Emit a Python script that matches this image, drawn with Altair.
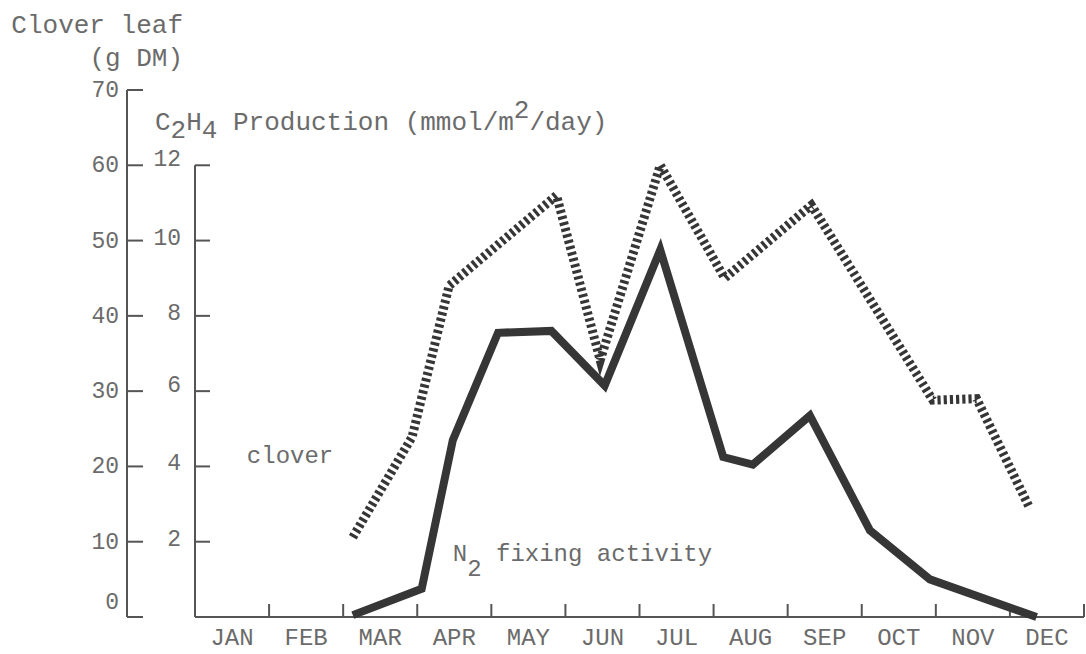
import altair as alt
import pandas as pd

# ---- data -------------------------------------------------------------
months = ["JAN", "FEB", "MAR", "APR", "MAY", "JUN",
          "JUL", "AUG", "SEP", "OCT", "NOV", "DEC"]

# clover leaf dry matter (g DM), sampled through the season
clover_month = [2.13, 2.93, 3.43, 4.88, 5.47, 6.28, 7.15, 8.32, 9.96, 10.55, 11.27]
clover_gdm = [10.6, 23.9, 44.0, 56.0, 34.1, 60.0, 45.0, 54.7, 28.8, 29.0, 14.4]

# N2 fixing activity as C2H4 production (mmol/m2/day)
n2_month = [2.13, 3.06, 3.48, 4.09, 4.81, 5.53, 6.28, 7.13, 7.53, 8.30, 9.11, 9.92, 11.36]
n2_c2h4 = [0.05, 0.75, 4.70, 7.55, 7.60, 6.15, 9.75, 4.25, 4.05, 5.35, 2.30, 1.00, 0.0]

outer_ticks = [0, 10, 20, 30, 40, 50, 60, 70]
inner_ticks = [0, 2, 4, 6, 8, 10, 12]
inner_labels = [2, 4, 6, 8, 10, 12]

# ---- layout / style ---------------------------------------------------
W, H = 889, 527
FONT = "Liberation Mono"
TEXT = "#6b6b6b"
AXIS = "#555555"
INK = "#363636"
RATIO = 5  # 1 unit of C2H4 production sits at 5 g DM on the shared vertical scale

x_scale = alt.Scale(domain=[0, 12], nice=False, zero=False)
y_scale = alt.Scale(domain=[0, 70], nice=False)

one = pd.DataFrame({"k": [0]})
clover_df = pd.DataFrame({"m": clover_month, "v": clover_gdm})
n2_df = pd.DataFrame({"m": n2_month, "v": n2_c2h4})
outer_df = pd.DataFrame({"v": outer_ticks, "lab": [str(v) for v in outer_ticks]})
inner_tick_df = pd.DataFrame({"v": inner_ticks})
inner_lab_df = pd.DataFrame({"v": inner_labels, "lab": [str(v) for v in inner_labels]})
month_df = pd.DataFrame({"pos": [i + 0.5 for i in range(12)], "lab": months})
bound_df = pd.DataFrame({"m": list(range(1, 13))})

to_shared = f"datum.v * {RATIO}"


def xq(field):
    return alt.X(field, type="quantitative", scale=x_scale, axis=None)


def yq(field):
    return alt.Y(field, type="quantitative", scale=y_scale, axis=None)


def segmented(parts, anchor, size):
    """Typewriter-style text with raised/lowered pieces (sub/superscripts).

    anchor is either a (month, g DM) pair placed through the scales, or a
    pixel pair for text that lives outside the plot.
    """
    adv = 0.6 * size
    out, col = [], 0
    for txt, shift in parts:
        lead = len(txt) - len(txt.lstrip())
        mark = alt.Chart(one).mark_text(
            text=txt.lstrip(), align="left", baseline="alphabetic",
            dx=(col + lead) * adv, dy=shift,
            font=FONT, fontSize=size, color=TEXT,
        )
        if anchor[0] == "data":
            mark = mark.transform_calculate(ax=str(anchor[1]), ay=str(anchor[2])).encode(
                x=xq("ax"), y=yq("ay"))
        else:
            mark = mark.encode(x=alt.value(anchor[1]), y=alt.value(anchor[2]))
        out.append(mark)
        col += len(txt)
    return out


# ---- clover leaf (g DM) axis, offset to the left -----------------------
o_axis = alt.Chart(one).transform_calculate(y0="0", y1="70").mark_rule(
    color=AXIS, strokeWidth=2
).encode(x=alt.value(-68), y=yq("y0"), y2="y1:Q")
o_ticks = alt.Chart(outer_df).mark_rule(color=AXIS, strokeWidth=2).encode(
    x=alt.value(-68), x2=alt.value(-52), y=yq("v")
)
o_labels = alt.Chart(outer_df).transform_filter("datum.v > 0").mark_text(
    align="right", baseline="middle", font=FONT, fontSize=23, color=TEXT
).encode(x=alt.value(-76), y=yq("v"), text="lab:N")
o_label0 = alt.Chart(outer_df).transform_filter("datum.v == 0").mark_text(
    align="right", baseline="middle", font=FONT, fontSize=23, color=TEXT, dy=-15
).encode(x=alt.value(-76), y=yq("v"), text="lab:N")
o_title1 = alt.Chart(one).mark_text(
    text="Clover leaf", align="right", baseline="alphabetic",
    font=FONT, fontSize=26, color=TEXT
).encode(x=alt.value(-12), y=alt.value(-57))
o_title2 = alt.Chart(one).mark_text(
    text="(g DM)", align="right", baseline="alphabetic",
    font=FONT, fontSize=26, color=TEXT
).encode(x=alt.value(-12), y=alt.value(-24))

# ---- C2H4 production axis at the plot's left edge ----------------------
i_axis = alt.Chart(one).transform_calculate(x0="0", y0="0", y1=str(12 * RATIO)).mark_rule(
    color=AXIS, strokeWidth=2
).encode(x=xq("x0"), y=yq("y0"), y2="y1:Q")
i_ticks = alt.Chart(inner_tick_df).transform_calculate(s=to_shared).mark_rule(
    color=AXIS, strokeWidth=2
).encode(x=alt.value(0), x2=alt.value(15), y=yq("s"))
i_labels = alt.Chart(inner_lab_df).transform_calculate(s=to_shared).transform_filter(
    alt.FieldOneOfPredicate(field="v", oneOf=[2, 4, 8, 10])
).mark_text(
    align="right", baseline="middle", font=FONT, fontSize=23, color=TEXT, dy=-3
).encode(x=alt.value(-14), y=yq("s"), text="lab:N")
i_labels_up = alt.Chart(inner_lab_df).transform_calculate(s=to_shared).transform_filter(
    alt.FieldOneOfPredicate(field="v", oneOf=[6, 12])
).mark_text(
    align="right", baseline="middle", font=FONT, fontSize=23, color=TEXT, dy=-6
).encode(x=alt.value(-14), y=yq("s"), text="lab:N")

# ---- month axis --------------------------------------------------------
x_line = alt.Chart(one).transform_calculate(x0="0", x1="12", y0="0").mark_rule(
    color=AXIS, strokeWidth=2
).encode(x=xq("x0"), x2="x1:Q", y=yq("y0"))
x_ticks = alt.Chart(bound_df).mark_rule(color=AXIS, strokeWidth=2).encode(
    x=xq("m"), y=alt.value(H), y2=alt.value(H - 13)
)
month_labels = alt.Chart(month_df).mark_text(
    align="center", baseline="middle", font=FONT, fontSize=24, color=TEXT
).encode(x=xq("pos"), y=alt.value(H + 21), text="lab:N")

# ---- series --------------------------------------------------------------
clover_line = alt.Chart(clover_df).mark_line(
    color=INK, strokeWidth=9, strokeDash=[3.2, 3], strokeJoin="miter"
).encode(x=xq("m"), y=yq("v"), order="m:Q")

n2_line = alt.Chart(n2_df).transform_calculate(s=to_shared).mark_line(
    color=INK, strokeWidth=8, strokeJoin="miter"
).encode(x=xq("m"), y=yq("s"), order="m:Q")

clover_text = segmented([("clover", 0)], ("data", 0.70, 20.4), 24)
n2_text = segmented(
    [("N", 0), ("2", 15), (" fixing activity", 0)],
    ("data", 3.48, 1.5 * RATIO), 24,
)
c2h4_title = segmented(
    [("C", 0), ("2", 8), ("H", 0), ("4", 8),
     (" Production (mmol/m", 0), ("2", -12), ("/day)", 0)],
    ("px", -40, 40), 26,
)

chart = (
    alt.layer(
        o_axis, o_ticks, o_labels, o_label0, o_title1, o_title2,
        i_axis, i_ticks, i_labels, i_labels_up,
        x_line, x_ticks, month_labels,
        clover_line, n2_line, *clover_text, *n2_text, *c2h4_title,
    )
    .properties(
        width=W,
        height=H,
        autosize=alt.AutoSizeParams(type="none"),
        padding={"left": 195, "top": 90, "right": 2, "bottom": 37},
        background="white",
    )
    .configure_view(stroke=None)
)

chart.save("out.html", embed_options={"renderer": "svg", "actions": False})
